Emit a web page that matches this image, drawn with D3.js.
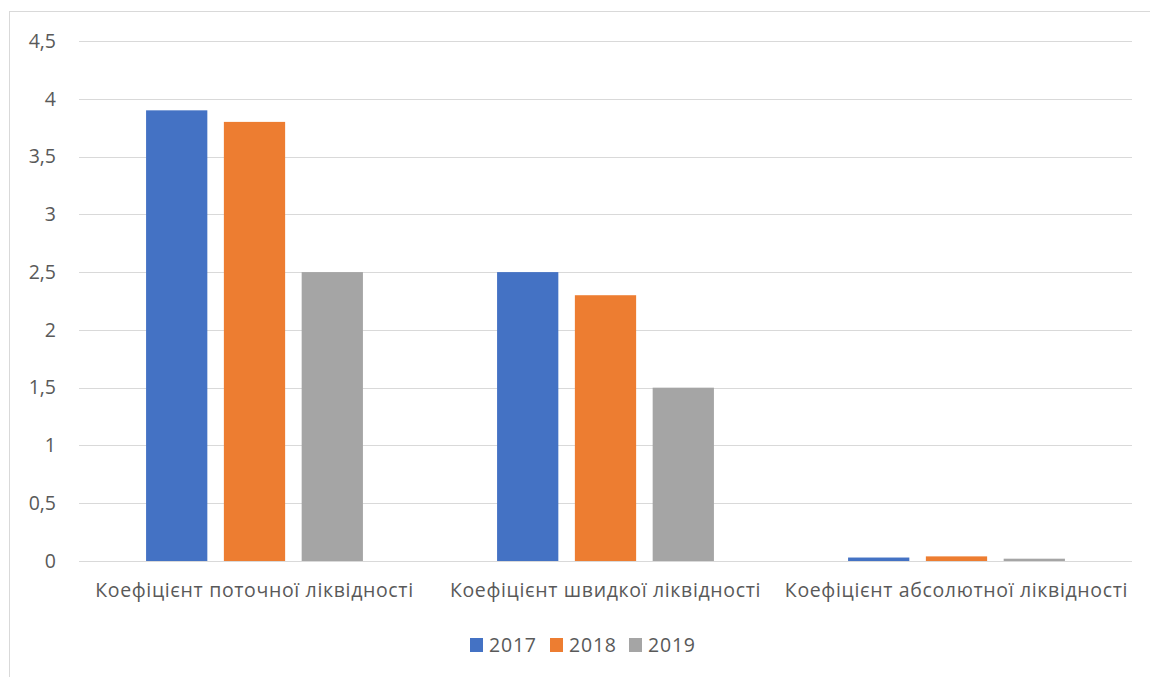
<!DOCTYPE html>
<html><head><meta charset="utf-8">
<script src="https://cdn.jsdelivr.net/npm/d3@7"></script>
<style>body{margin:0;background:#fff}svg text{font-family:"Open Sans","Noto Sans",sans-serif;fill:#595959}</style>
</head><body>
<svg id="c" width="1150" height="677"></svg>
<script>
const categories = ["Коефіцієнт поточної ліквідності","Коефіцієнт швидкої ліквідності","Коефіцієнт абсолютної ліквідності"];
const seriesNames = ["2017","2018","2019"];
const v2017 = [3.9, 2.5, 0.03];
const v2018 = [3.8, 2.3, 0.04];
const v2019 = [2.5, 1.5, 0.02];
const colors = ["#4472C4","#ED7D31","#A5A5A5"];
const yTicks = [0,0.5,1,1.5,2,2.5,3,3.5,4,4.5];

const series = [v2017, v2018, v2019];
const svg = d3.select("#c");
svg.append("rect").attr("x",9.5).attr("y",11.5).attr("width",1160).attr("height",700)
  .attr("fill","none").attr("stroke","#d9d9d9");

const L=79, R=1132, T=41, B=561;
const x = d3.scaleBand().domain(categories).range([L,R]);
const y = d3.scaleLinear().domain([0,4.5]).range([B,T]);
const bw = x.bandwidth()/(3+2*0.27+2.19);
const gap = bw*0.27;
const fmt = d => String(d).replace(".",",");

const g = svg.append("g");
g.selectAll("line.grid").data(yTicks).join("line")
  .attr("x1",L).attr("x2",R).attr("y1",d=>Math.round(y(d))+0.5).attr("y2",d=>Math.round(y(d))+0.5)
  .attr("stroke","#d9d9d9").attr("stroke-width",1);
g.selectAll("text.yt").data(yTicks).join("text")
  .attr("x",56).attr("y",d=>y(d)).attr("dy","0.35em").attr("text-anchor","end")
  .attr("font-size",19.5).text(fmt);

series.forEach((s,i)=>{
  g.selectAll("rect.s"+i).data(categories).join("rect")
    .attr("x",(c)=>x(c)+x.bandwidth()/2-(1.5*bw+gap)+i*(bw+gap))
    .attr("width",bw)
    .attr("y",(c,j)=>y(s[j])).attr("height",(c,j)=>B-y(s[j]))
    .attr("fill",colors[i]);
});
g.append("line").attr("x1",L).attr("x2",R).attr("y1",B+0.5).attr("y2",B+0.5).attr("stroke","#d9d9d9");

g.selectAll("text.cat").data(categories).join("text")
  .attr("x",c=>x(c)+x.bandwidth()/2).attr("y",597).attr("text-anchor","middle")
  .attr("font-size",19.5).attr("letter-spacing",0.65).text(d=>d);

const leg = svg.append("g");
const lx=[470,550,629];
seriesNames.forEach((n,i)=>{
  leg.append("rect").attr("x",lx[i]).attr("y",638).attr("width",13).attr("height",14).attr("fill",colors[i]);
  leg.append("text").attr("x",lx[i]+19).attr("y",645.5).attr("dy","0.35em").attr("font-size",19.5).attr("letter-spacing",0.8).text(n);
});
</script>
</body></html>
